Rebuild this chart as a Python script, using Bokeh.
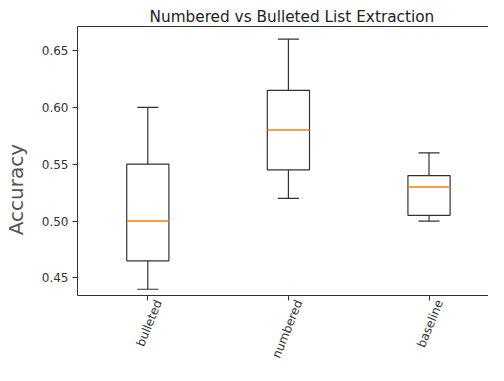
import math
import numpy as np
from bokeh.plotting import figure
from bokeh.models import Range1d, FixedTicker, LinearAxis, NumeralTickFormatter
from bokeh.embed import file_html
from bokeh.resources import INLINE

categories = ["bulleted", "numbered", "baseline"]
whisker_hi = [0.60, 0.66, 0.56]
q3 = [0.55, 0.615, 0.54]
medians = [0.50, 0.58, 0.53]
q1 = [0.465, 0.545, 0.505]
whisker_lo = [0.44, 0.52, 0.50]
y_ticks = [0.45, 0.50, 0.55, 0.60, 0.65]

pos = np.arange(1, len(categories) + 1, dtype=float)
box_w = 0.3
cap_w = 0.15
label_shift = 0.075  # centre rotated labels under their ticks

FONT = "DejaVu Sans"
AX = "#333333"

p = figure(width=488, height=365, output_backend="svg", toolbar_location=None,
           x_range=Range1d(0.5, 3.423), y_range=Range1d(0.4345, 0.6711),
           min_border_left=70, min_border_right=0, min_border_top=26, min_border_bottom=61,
           title="Numbered vs Bulleted List Extraction")
p.title.align = "left"
p.title.offset = 72
p.title.standoff = 2
p.title.vertical_align = "bottom"
p.title.text_line_height = 1.5
p.title.text_font = FONT
p.title.text_font_size = "15.3px"
p.title.text_font_style = "normal"
p.title.text_color = "#222222"
p.outline_line_color = None
p.xgrid.visible = False
p.ygrid.visible = False
p.background_fill_color = "white"

for ax in (p.xaxis[0], p.yaxis[0]):
    ax.axis_line_color = AX
    ax.major_tick_line_color = AX
    ax.major_tick_out = 5
    ax.major_tick_in = 0
    ax.minor_tick_line_color = None
    ax.major_label_text_font = FONT
    ax.major_label_text_font_size = "12px"
    ax.major_label_text_color = "#333333"
    ax.major_label_standoff = 4

ya = p.yaxis[0]
ya.ticker = FixedTicker(ticks=y_ticks)
ya.formatter = NumeralTickFormatter(format="0.00")
ya.axis_label = "Accuracy" + "\u00a0" * 9
ya.axis_label_text_font = FONT
ya.axis_label_text_font_size = "20px"
ya.axis_label_text_font_style = "normal"
ya.axis_label_text_color = "#555555"
ya.axis_label_standoff = 11

# tick marks only
xa = p.xaxis[0]
xa.ticker = FixedTicker(ticks=list(pos))
xa.major_label_text_color = None
xa.major_label_standoff = 0

# category labels, rotated
xl = LinearAxis(ticker=FixedTicker(ticks=list(pos + label_shift)),
                axis_line_color=None, major_tick_line_color=None,
                major_tick_out=0, major_tick_in=0, minor_tick_line_color=None,
                major_label_text_font=FONT, major_label_text_font_size="12px",
                major_label_text_color="#333333", major_label_standoff=0,
                major_label_orientation=math.radians(68))
xl.major_label_overrides = {float(x + label_shift): c for x, c in zip(pos, categories)}
p.add_layout(xl, "below")

top = LinearAxis(ticker=FixedTicker(ticks=[]), axis_line_color=AX,
                 major_tick_line_color=None, minor_tick_line_color=None,
                 major_tick_out=0, major_tick_in=0, major_label_standoff=0)
p.add_layout(top, "above")

lc = "#333333"
lw = 1.2
p.quad(left=pos - box_w / 2, right=pos + box_w / 2, bottom=q1, top=q3,
       fill_color=None, line_color=lc, line_width=lw)
p.segment(x0=pos, y0=q3, x1=pos, y1=whisker_hi, line_color=lc, line_width=lw)
p.segment(x0=pos, y0=q1, x1=pos, y1=whisker_lo, line_color=lc, line_width=lw)
p.segment(x0=pos - cap_w / 2, y0=whisker_hi, x1=pos + cap_w / 2, y1=whisker_hi, line_color=lc, line_width=lw)
p.segment(x0=pos - cap_w / 2, y0=whisker_lo, x1=pos + cap_w / 2, y1=whisker_lo, line_color=lc, line_width=lw)
p.segment(x0=pos - box_w / 2, y0=medians, x1=pos + box_w / 2, y1=medians, line_color="#ff7f0e", line_width=1.5)

open("out.html", "w").write(file_html(p, INLINE))
